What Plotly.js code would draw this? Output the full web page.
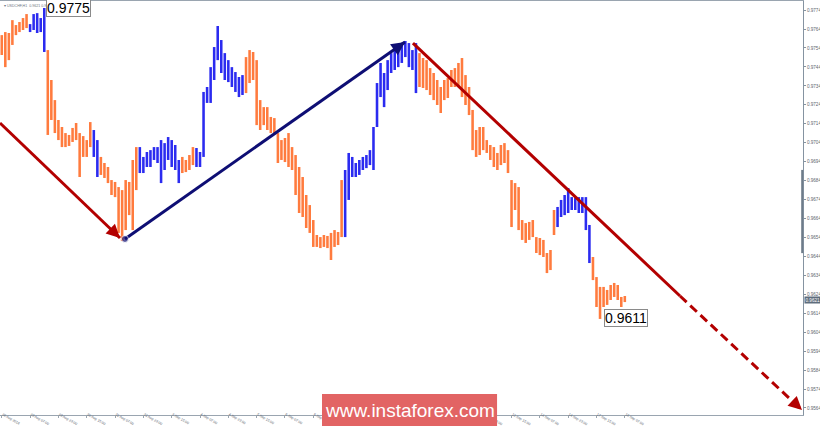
<!DOCTYPE html>
<html><head><meta charset="utf-8">
<script src="https://cdn.plot.ly/plotly-3.0.1.min.js"></script>
<style>html,body{margin:0;padding:0;background:#fff;}#chart{width:820px;height:426px;}</style>
</head><body><div id="chart"></div>
<script>
// ---- data (USDCHF H1, two-hour groups: high / low) ----
const symbol = 'USDCHF,H1';
const lastBarOHLC = [0.9621, 0.9622, 0.9620, 0.9621];
const highs = [
0.97608,0.97624,0.97619,0.97687,0.97661,0.97677,0.97698,0.97719,0.97666,0.97719,
0.97724,0.97698,0.97751,0.97529,0.97371,0.97265,0.97160,0.97123,0.97091,0.97081,
0.97118,0.97144,0.97091,0.97075,0.97054,0.97149,0.97107,0.97054,0.96965,0.96933,
0.96912,0.96843,0.96833,0.96806,0.96790,0.96843,0.96833,0.96949,0.97017,0.97017,
0.96965,0.96991,0.97001,0.97017,0.97017,0.97054,0.97038,0.97070,0.97054,0.97028,
0.96949,0.96965,0.96949,0.96975,0.97017,0.97012,0.96991,0.97308,0.97334,0.97439,
0.97545,0.97656,0.97582,0.97513,0.97476,0.97439,0.97413,0.97387,0.97397,0.97492,
0.97529,0.97519,0.97476,0.97265,0.97228,0.97228,0.97176,0.97170,0.97091,0.97054,
0.97065,0.97091,0.97017,0.96975,0.96912,0.96859,0.96764,0.96711,0.96632,0.96553,
0.96542,0.96553,0.96548,0.96564,0.96579,0.96569,0.96843,0.96896,0.96986,0.96965,
0.96933,0.96949,0.96965,0.96975,0.97001,0.97123,0.97355,0.97461,0.97408,0.97476,
0.97513,0.97529,0.97545,0.97566,0.97577,0.97566,0.97529,0.97566,0.97513,0.97487,
0.97476,0.97434,0.97408,0.97371,0.97334,0.97371,0.97381,0.97424,0.97434,0.97461,
0.97487,0.97397,0.97334,0.97213,0.97107,0.97123,0.97123,0.97054,0.97028,0.97017,
0.96986,0.97028,0.97038,0.97001,0.96843,0.96827,0.96806,0.96632,0.96616,0.96622,
0.96632,0.96542,0.96537,0.96527,0.96458,0.96474,0.96685,0.96701,0.96738,0.96764,
0.96801,0.96753,0.96748,0.96753,0.96753,0.96753,0.96606,0.96437,0.96331,0.96279,
0.96279,0.96263,0.96289,0.96300,0.96289,0.96226,0.96231
];
const lows = [
0.97503,0.97439,0.97476,0.97556,0.97608,0.97624,0.97635,0.97645,0.97624,0.97635,
0.97619,0.97624,0.97519,0.97081,0.97160,0.97091,0.97054,0.97017,0.97017,0.97023,
0.97044,0.97054,0.96859,0.96965,0.96965,0.97017,0.96965,0.96859,0.96870,0.96854,
0.96827,0.96764,0.96753,0.96564,0.96521,0.96579,0.96658,0.96579,0.96790,0.96880,
0.96880,0.96912,0.96912,0.96949,0.96933,0.96827,0.96896,0.96949,0.96912,0.96896,
0.96827,0.96880,0.96885,0.96896,0.96922,0.96912,0.96912,0.96965,0.97250,0.97250,
0.97371,0.97476,0.97408,0.97371,0.97360,0.97334,0.97308,0.97281,0.97292,0.97302,
0.97355,0.97371,0.97133,0.97107,0.97133,0.97107,0.97091,0.97081,0.96933,0.96949,
0.96938,0.96912,0.96896,0.96764,0.96669,0.96648,0.96590,0.96564,0.96490,0.96490,
0.96484,0.96490,0.96484,0.96421,0.96490,0.96500,0.96542,0.96542,0.96738,0.96859,
0.96859,0.96870,0.96896,0.96906,0.96922,0.96896,0.97123,0.97281,0.97228,0.97318,
0.97408,0.97424,0.97439,0.97461,0.97492,0.97439,0.97424,0.97302,0.97334,0.97329,
0.97318,0.97292,0.97265,0.97239,0.97197,0.97265,0.97276,0.97334,0.97334,0.97334,
0.97281,0.97239,0.97186,0.97001,0.96965,0.96975,0.97001,0.96986,0.96949,0.96912,
0.96896,0.96922,0.96933,0.96880,0.96595,0.96685,0.96579,0.96527,0.96511,0.96527,
0.96542,0.96458,0.96447,0.96437,0.96352,0.96368,0.96553,0.96595,0.96648,0.96658,
0.96669,0.96685,0.96685,0.96669,0.96669,0.96579,0.96405,0.96315,0.96173,0.96110,
0.96173,0.96184,0.96210,0.96226,0.96210,0.96173,0.96199
];
// colour runs of the trend indicator: o = orange, b = blue
const trendRuns = [['o',8],['b',5],['o',13],['b',2],['o',11],['b',12],['o',4],['b',14],['o',28],['b',21],['o',39],['b',10],['o',10]];
const xTickLabels = ['28 Aug 2018','29 Aug 07:00','29 Aug 23:00','30 Aug 15:00','31 Aug 07:00','31 Aug 23:00',
  '3 Sep 15:00','4 Sep 07:00','4 Sep 23:00','5 Sep 15:00','6 Sep 07:00','6 Sep 23:00','7 Sep 15:00',
  '10 Sep 07:00','10 Sep 23:00','11 Sep 15:00','12 Sep 07:00','12 Sep 23:00','13 Sep 15:00',
  '14 Sep 07:00','14 Sep 23:00','17 Sep 15:00','18 Sep 07:00'];
const yTickValues = [0.9774,0.9764,0.9754,0.9744,0.9734,0.9724,0.9714,0.9704,0.9694,0.9684,0.9674,
  0.9664,0.9654,0.9644,0.9634,0.9624,0.9614,0.9604,0.9594,0.9584,0.9574,0.9564];
const highLabel = 0.9775, lowLabel = 0.9611, lastPrice = 0.9621;
// wave lines (hour index, price)
const wave1X = [0, 67.8],            wave1Y = [0.97144, 0.96537];
const wave2X = [70.6, 228.8],        wave2Y = [0.96532, 0.97572];
const wave3X = [233.3, 384.2, 453.1], wave3Y = [0.97566, 0.96231, 0.95629];

// ---- build ----
const barX = highs.map((_, i) => 2 * i + 1);
const trend = [];
trendRuns.forEach(([c, n]) => { for (let k = 0; k < n; k++) trend.push(c); });
const colorMap = {o: '#ff7b3e', b: '#2b2bf0'};
const RED = '#b30000', NAVY = '#0e0e74';

const traces = [
  {type:'bar', x: barX, y: highs.map((h, i) => h - lows[i]), base: lows, width: 1.45,
   marker:{color: trend.map(c => colorMap[c]), line:{width:0}}, hoverinfo:'skip'},
  {type:'scatter', mode:'lines', x: wave1X, y: wave1Y, line:{color:RED, width:3}, hoverinfo:'skip'},
  {type:'scatter', mode:'lines+markers', x: wave2X, y: wave2Y, line:{color:NAVY, width:3},
   marker:{size:[7,0], color:NAVY}, hoverinfo:'skip'},
  {type:'scatter', mode:'lines', x: wave3X.slice(0,2), y: wave3Y.slice(0,2), line:{color:RED, width:3}, hoverinfo:'skip'},
  {type:'scatter', mode:'lines', x: wave3X.slice(1,3), y: wave3Y.slice(1,3), line:{color:RED, width:3, dash:'9px,5px'}, hoverinfo:'skip'}
];

function head(xs, ys, color) {
  const n = xs.length, x1 = xs[n-2], y1 = ys[n-2], x2 = xs[n-1], y2 = ys[n-1];
  const t = (x2 - 6 - x1) / (x2 - x1);
  return {x: x2, y: y2, ax: x1 + t * (x2 - x1), ay: y1 + t * (y2 - y1), xref:'x', yref:'y', axref:'x', ayref:'y',
    showarrow:true, arrowhead:2, arrowsize:0.9, arrowwidth:3, arrowcolor:color, standoff:0, text:''};
}
const iHigh = highs.indexOf(Math.max(...highs));
const iLow = lows.indexOf(Math.min(...lows));
const annotations = [
  {x: 0.003, y: 1, xref:'paper', yref:'paper', xanchor:'left', yanchor:'top', yshift:-1,
   text: '▾ ' + symbol + '  ' + lastBarOHLC.map(v => v.toFixed(4)).join(' '), showarrow:false,
   font:{family:'Liberation Sans, Arial', size:3.6, color:'#6b7480'}},
  head(wave1X, wave1Y, RED), head(wave2X, wave2Y, NAVY), head(wave3X, wave3Y, RED),
  {x: barX[iHigh], y: highs[iHigh], xref:'x', yref:'y', xanchor:'left', yanchor:'middle', xshift:2, yshift:0,
   text: highLabel.toFixed(4), showarrow:false, font:{family:'Liberation Sans, Arial', size:14, color:'#000'},
   bgcolor:'#fff', bordercolor:'#8a8a8a', borderwidth:1, borderpad:0},
  {x: barX[iLow], y: lows[iLow], xref:'x', yref:'y', xanchor:'left', yanchor:'middle', xshift:4, yshift:1,
   text: lowLabel.toFixed(4), showarrow:false, font:{family:'Liberation Sans, Arial', size:14, color:'#000'},
   bgcolor:'#fff', bordercolor:'#8a8a8a', borderwidth:1, borderpad:0},
  {x: 1, y: lastPrice, xref:'paper', yref:'y', xanchor:'left', yanchor:'middle', xshift:1,
   text: lastPrice.toFixed(4), showarrow:false, font:{family:'Liberation Sans, Arial', size:4.6, color:'#fff'},
   bgcolor:'#5e6d7d', borderpad:0.5},
  {x: 0.51, y: 0.012, xref:'paper', yref:'paper', xanchor:'center', yanchor:'middle',
   text:'www.instaforex.com', showarrow:false, font:{family:'Liberation Sans, Arial', size:19, color:'#ffffff'}}
];

const shapes = [
  {type:'rect', xref:'paper', yref:'paper', x0:0.401, x1:0.619, y0:-0.03, y1:0.051, fillcolor:'#e26464', line:{width:0}, layer:'above'},
  {type:'line', xref:'paper', yref:'paper', x0:0.999, x1:0.999, y0:0.391, y1:0.592, line:{color:'#6e7c8a', width:2}, layer:'above'}
];

const layout = {
  width:820, height:426, margin:{l:0, r:17, t:1, b:11, pad:0},
  paper_bgcolor:'#ffffff', plot_bgcolor:'#ffffff', showlegend:false,
  xaxis:{range:[0, 453.67], showgrid:false, zeroline:false, showline:true, mirror:true, linecolor:'#9aa5b0', linewidth:1,
    tickmode:'array', tickvals: xTickLabels.map((_, k) => 1 + 16 * k), ticktext: xTickLabels,
    ticks:'outside', ticklen:2, tickcolor:'#9aa5b0', ticklabelposition:'outside right', ticklabelstandoff:-5,
    tickfont:{family:'Liberation Sans, Arial', size:3.5, color:'#5d6670'}, fixedrange:true},
  yaxis:{side:'right', range:[0.95603, 0.97788], showgrid:false, zeroline:false, showline:true, mirror:true,
    linecolor:'#8593a1', linewidth:1, tickmode:'array', tickvals: yTickValues, ticktext: yTickValues.map(v => v.toFixed(4)),
    ticks:'outside', ticklen:2, tickcolor:'#8593a1',
    tickfont:{family:'Liberation Sans, Arial', size:4.6, color:'#5d6670'}, fixedrange:true},
  annotations, shapes
};
Plotly.newPlot('chart', traces, layout, {displayModeBar:false, staticPlot:true});
</script></body></html>
